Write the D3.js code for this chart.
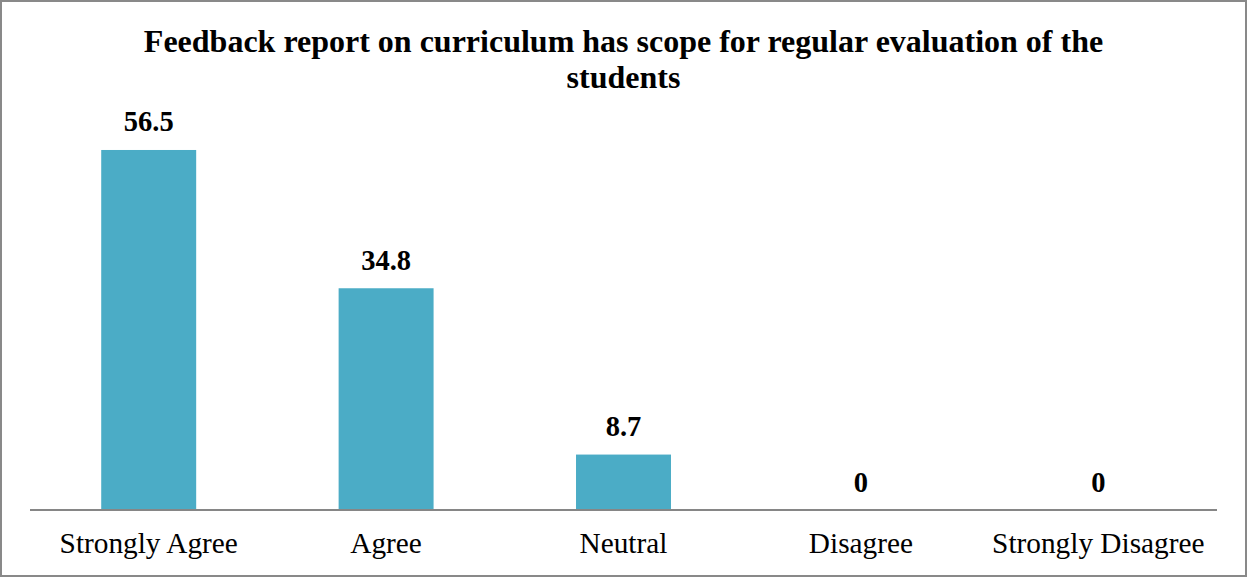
<!DOCTYPE html>
<html>
<head>
<meta charset="utf-8">
<script src="https://cdn.jsdelivr.net/npm/d3@7"></script>
<style>
  html, body { margin: 0; padding: 0; background: #fff; }
  svg { display: block; }
</style>
</head>
<body>
<svg id="chart" width="1247" height="577"></svg>
<script>
const titleLines = ["Feedback report on curriculum has scope for regular evaluation of the", "students"];
const categories = ["Strongly Agree", "Agree", "Neutral", "Disagree", "Strongly Disagree"];
const values = [56.5, 34.8, 8.7, 0, 0];
const valueLabels = ["56.5", "34.8", "8.7", "0", "0"];

const W = 1247, H = 577;
const svg = d3.select("#chart");
const font = "'Liberation Serif', 'Times New Roman', serif";

svg.append("rect")
  .attr("x", 1).attr("y", 1).attr("width", W - 2).attr("height", H - 2)
  .attr("fill", "#fff").attr("stroke", "#898989").attr("stroke-width", 2);

const left = 30, right = 1217, base = 510;
const x = d3.scaleBand().domain(categories).range([left, right])
  .paddingInner(0.6).paddingOuter(0.3);
const y = d3.scaleLinear().domain([0, 60]).range([base, base - 60 * 6.372]);

svg.append("g").selectAll("rect").data(values).join("rect")
  .attr("x", (d, i) => x(categories[i]))
  .attr("y", d => y(d))
  .attr("width", x.bandwidth())
  .attr("height", d => y(0) - y(d))
  .attr("fill", "#4BACC6");

svg.append("line")
  .attr("x1", left).attr("x2", right).attr("y1", base).attr("y2", base)
  .attr("stroke", "#868686").attr("stroke-width", 2);

svg.append("g").selectAll("text").data(values).join("text")
  .attr("x", (d, i) => x(categories[i]) + x.bandwidth() / 2)
  .attr("y", d => y(d) - 18.5)
  .attr("text-anchor", "middle")
  .attr("font-family", font).attr("font-weight", "bold").attr("font-size", 28.5)
  .attr("fill", "#000")
  .text((d, i) => valueLabels[i]);

svg.append("g").selectAll("text").data(categories).join("text")
  .attr("x", d => x(d) + x.bandwidth() / 2)
  .attr("y", 553)
  .attr("text-anchor", "middle")
  .attr("font-family", font).attr("font-size", 29.3)
  .attr("fill", "#000")
  .text(d => d);

svg.append("g").selectAll("text").data(titleLines).join("text")
  .attr("x", 623.5)
  .attr("y", (d, i) => 51.7 + i * 36.6)
  .attr("text-anchor", "middle")
  .attr("font-family", font).attr("font-weight", "bold").attr("font-size", 32)
  .attr("fill", "#000")
  .text(d => d);
</script>
</body>
</html>
